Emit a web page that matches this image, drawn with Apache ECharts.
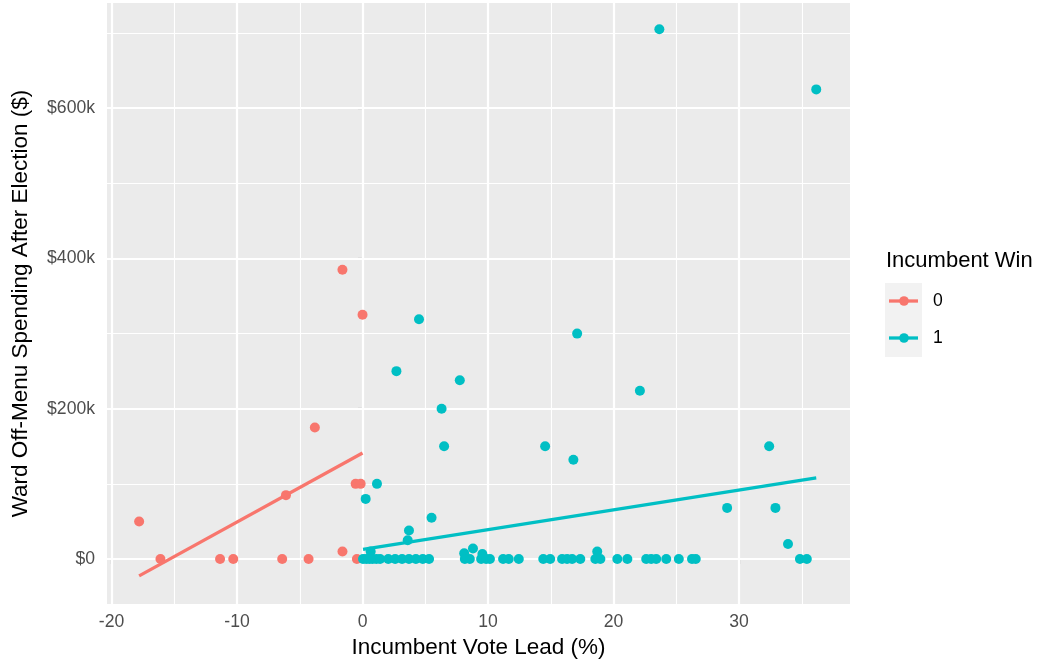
<!DOCTYPE html>
<html>
<head>
<meta charset="utf-8">
<script src="https://cdn.jsdelivr.net/npm/echarts@6/dist/echarts.min.js"></script>
<style>
  html, body { margin: 0; padding: 0; background: #ffffff; }
  #chart { width: 1045px; height: 664px; }
</style>
</head>
<body>
<div id="chart"></div>
<script>
// ---- Data ----
const loseX = [-17.8, -16.1, -11.35, -10.3, -6.4, -6.1, -4.3, -3.8, -1.6, -1.6, -0.55, -0.15, -0.45, 0];
const loseY = [50000, 0, 0, 0, 0, 85000, 0, 175000, 385000, 10000, 100000, 100000, 0, 325000];

const winX = [23.65, 36.15, 4.5, 17.1, 2.7, 7.75, 22.1, 6.3, 6.5, 14.55, 16.8, 32.4, 29.05, 32.9, 33.9,
              1.15, 0.25, 5.5, 3.7, 3.6, 8.8, 8.1, 9.55, 18.7, 0.65,
              0.04, 0.3, 0.55, 0.8, 1.1, 1.4, 2.05, 2.6, 3.15, 3.7, 4.25, 4.8, 5.3, 8.15, 8.55, 9.45, 9.85, 10.15,
              11.2, 11.65, 12.45, 14.4, 14.95, 15.9, 16.3, 16.7, 17.35, 18.55, 18.95, 20.3, 21.1, 22.6, 23.0, 23.4,
              24.2, 25.2, 26.25, 26.55, 34.85, 35.4];
const winY = [705000, 625000, 319000, 300000, 250000, 238000, 224000, 200000, 150000, 150000, 132000, 150000, 68000, 68000, 20000,
              100000, 80000, 55000, 38000, 25000, 14000, 7500, 6500, 10000, 10000,
              0, 0, 0, 0, 0, 0, 0, 0, 0, 0, 0, 0, 0, 0, 0, 0, 0, 0,
              0, 0, 0, 0, 0, 0, 0, 0, 0, 0, 0, 0, 0, 0, 0, 0,
              0, 0, 0, 0, 0, 0];

// fitted lines (endpoints)
const loseFitX = [-17.8, 0];
const loseFitY = [-22400, 141000];
const winFitX = [0.04, 36.15];
const winFitY = [12900, 108000];

const xTicks = [-20, -10, 0, 10, 20, 30];
const xMinor = [-15, -5, 5, 15, 25, 35];
const yTicks = [0, 200000, 400000, 600000];
const yTickLabels = ['$0', '$200k', '$400k', '$600k'];
const yMinor = [100000, 300000, 500000, 700000];

const legendTitle = 'Incumbent Win';
const groupNames = ['0', '1'];
const colors = ['#F8766D', '#00BFC4'];

// ---- Build ----
const zip = (a, b) => a.map((v, i) => [v, b[i]]);
const FONT = '"Liberation Sans", Arial, Helvetica, sans-serif';

const gridLines = [];
xMinor.forEach(v => gridLines.push({ xAxis: v, lineStyle: { width: 1.1 } }));
yMinor.forEach(v => gridLines.push({ yAxis: v, lineStyle: { width: 1.1 } }));
xTicks.forEach(v => gridLines.push({ xAxis: v, lineStyle: { width: 2.2 } }));
yTicks.forEach(v => gridLines.push({ yAxis: v, lineStyle: { width: 2.2 } }));

const chart = echarts.init(document.getElementById('chart'), null, { renderer: 'canvas' });

const legendKey = (i, y) => ([
  { type: 'line', shape: { x1: 889, y1: y, x2: 918, y2: y }, style: { stroke: colors[i], lineWidth: 3.3 } },
  { type: 'circle', shape: { cx: 904, cy: y, r: 4.8 }, style: { fill: colors[i] } },
  { type: 'text', style: { x: 933, y: y, text: groupNames[i], fill: '#000', font: '17.6px ' + FONT, verticalAlign: 'middle' } }
]);

chart.setOption({
  animation: false,
  backgroundColor: '#ffffff',
  textStyle: { fontFamily: FONT },
  grid: {
    left: 107, right: 195, top: 3, bottom: 60,
    show: true, backgroundColor: '#EBEBEB', borderWidth: 0
  },
  xAxis: {
    type: 'value', min: -20.36, max: 38.84,
    name: 'Incumbent Vote Lead (%)', nameLocation: 'middle', nameGap: 32,
    nameTextStyle: { fontSize: 22.5, color: '#000', fontFamily: FONT },
    axisLine: { show: false },
    axisTick: { show: true, length: 5, customValues: xTicks, lineStyle: { color: '#333333', width: 1.1 } },
    axisLabel: { customValues: xTicks, color: '#4D4D4D', fontSize: 17.6, margin: 9, fontFamily: FONT },
    splitLine: { show: false }
  },
  yAxis: {
    type: 'value', min: -59900, max: 740000,
    name: 'Ward Off-Menu Spending After Election ($)', nameLocation: 'middle', nameGap: 75,
    nameTextStyle: { fontSize: 22.5, color: '#000', fontFamily: FONT },
    axisLine: { show: false },
    axisTick: { show: true, length: 5, customValues: yTicks, lineStyle: { color: '#333333', width: 1.1 } },
    axisLabel: {
      customValues: yTicks, color: '#4D4D4D', fontSize: 17.6, margin: 12, fontFamily: FONT,
      formatter: v => { const i = yTicks.indexOf(v); return i >= 0 ? yTickLabels[i] : ''; }
    },
    splitLine: { show: false }
  },
  series: [
    {
      type: 'line', data: [], silent: true, z: 1,
      markLine: {
        z: 1, silent: true, symbol: ['none', 'none'], label: { show: false },
        lineStyle: { color: '#ffffff', type: 'solid' },
        emphasis: { disabled: true },
        data: gridLines
      }
    },
    {
      name: groupNames[0], type: 'scatter', data: zip(loseX, loseY), symbolSize: 10,
      itemStyle: { color: colors[0], opacity: 1 }, z: 3
    },
    {
      name: groupNames[1], type: 'scatter', data: zip(winX, winY), symbolSize: 10,
      itemStyle: { color: colors[1], opacity: 1 }, z: 3
    },
    {
      name: groupNames[0] + ' fit', type: 'line', data: zip(loseFitX, loseFitY), showSymbol: false,
      lineStyle: { color: colors[0], width: 3.3 }, z: 4, silent: true
    },
    {
      name: groupNames[1] + ' fit', type: 'line', data: zip(winFitX, winFitY), showSymbol: false,
      lineStyle: { color: colors[1], width: 3.3 }, z: 4, silent: true
    }
  ],
  graphic: [
    { type: 'text', style: { x: 886, y: 261, text: legendTitle, fill: '#000', font: '22px ' + FONT, verticalAlign: 'middle' } },
    { type: 'rect', shape: { x: 885, y: 283, width: 37, height: 74 }, style: { fill: '#F2F2F2' } },
    ...legendKey(0, 301),
    ...legendKey(1, 338)
  ]
});
</script>
</body>
</html>
